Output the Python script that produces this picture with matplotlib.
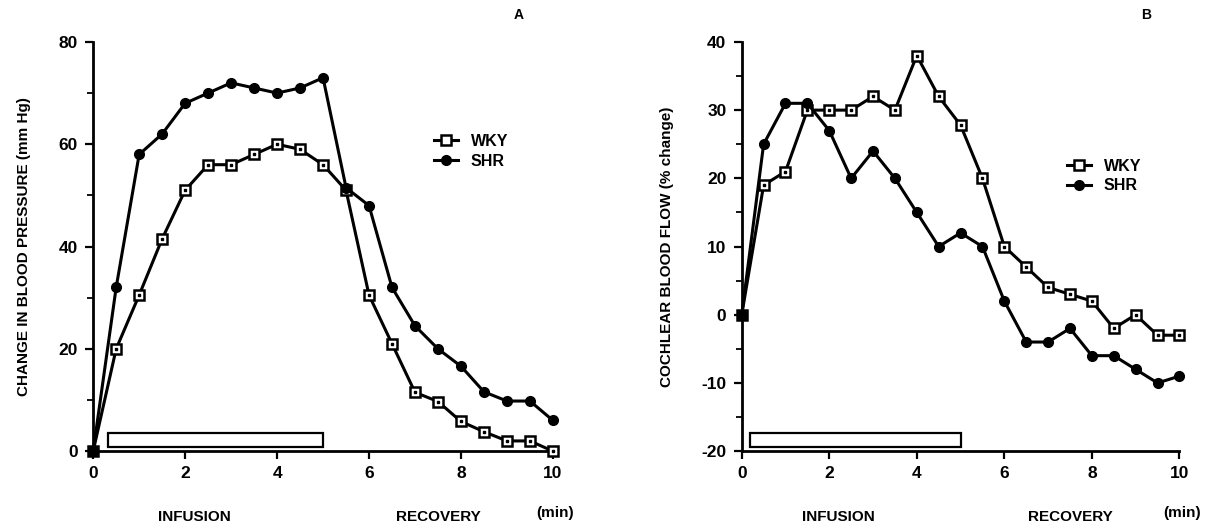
import matplotlib
matplotlib.use('Agg')
import matplotlib.pyplot as plt
from matplotlib.patches import Rectangle
from matplotlib.ticker import MultipleLocator

plt.rcParams['font.family'] = ['Liberation Sans', 'DejaVu Sans']
plt.rcParams['font.weight'] = 'bold'
plt.rcParams['axes.unicode_minus'] = False

# tempo (min)
tempo = [0, 0.5, 1, 1.5, 2, 2.5, 3, 3.5, 4, 4.5, 5,
         5.5, 6, 6.5, 7, 7.5, 8, 8.5, 9, 9.5, 10]

# A - pressao arterial (mm Hg)
pa_wky = [0, 20, 30.5, 41.5, 51, 56, 56, 58, 60, 59, 56,
          51, 30.5, 21, 11.5, 9.7, 5.8, 3.8, 2, 2, 0]
pa_shr = [0, 32, 58, 62, 68, 70, 72, 71, 70, 71, 73,
          51.5, 48, 32, 24.5, 20, 16.6, 11.6, 9.8, 9.8, 6]

# B - fluxo sanguineo coclear (% change)
fluxo_wky = [0, 19, 21, 30, 30, 30, 32, 30, 38, 32, 27.8,
             20, 10, 7, 4, 3, 2, -2, 0, -3, -3]
fluxo_shr = [0, 25, 31, 31, 27, 20, 24, 20, 15, 10, 12,
             10, 2, -4, -4, -2, -6, -6, -8, -10, -9]

infusao_a = (0.33, 5.0)
infusao_b = (0.2, 5.0)

fig = plt.figure(figsize=(12.26, 5.24), dpi=100)
ax_a = fig.add_axes([0.076, 0.139, 0.375, 0.781])
ax_b = fig.add_axes([0.605, 0.139, 0.357, 0.781])


def desenha(ax, wky, shr, ymin, ymax, maior, menor, barra, ylabel, letra):
    ax.plot(tempo, wky, color='black', lw=2.2, marker='s', ms=6.5,
            mfc='white', mec='black', mew=1.8, label='WKY', clip_on=False, zorder=3)
    ax.plot(tempo, wky, ls='none', marker='s', ms=1.5, color='black',
            clip_on=False, zorder=4)
    ax.plot(tempo, shr, color='black', lw=2.2, marker='o', ms=7,
            label='SHR', clip_on=False, zorder=3)

    # barra da infusao
    altura = (ymax - ymin) * 0.036
    base = ymin + (ymax - ymin) * 0.009
    ax.add_patch(Rectangle((barra[0], base), barra[1] - barra[0], altura,
                           fill=False, ec='black', lw=1.6))

    ax.set_xlim(0, 10)
    ax.set_ylim(ymin, ymax)
    ax.xaxis.set_major_locator(MultipleLocator(2))
    ax.yaxis.set_major_locator(MultipleLocator(maior))
    ax.yaxis.set_minor_locator(MultipleLocator(menor))
    ax.spines['top'].set_visible(False)
    ax.spines['right'].set_visible(False)
    ax.spines['left'].set_linewidth(2)
    ax.spines['bottom'].set_linewidth(2)
    ax.tick_params(axis='both', which='major', length=6, width=1.6,
                   labelsize=12.5, pad=5)
    ax.tick_params(axis='y', which='minor', length=4, width=1.3)
    for t in ax.get_xticklabels() + ax.get_yticklabels():
        t.set_fontweight('bold')

    ax.set_ylabel(ylabel, fontsize=11, fontweight='bold', labelpad=20)
    ax.text(2.2, -0.16, 'INFUSION', transform=ax.get_xaxis_transform(),
            ha='center', va='center', fontsize=11, fontweight='bold')
    ax.text(7.5, -0.16, 'RECOVERY', transform=ax.get_xaxis_transform(),
            ha='center', va='center', fontsize=11, fontweight='bold')
    ax.text(10.05, -0.15, '(min)', transform=ax.get_xaxis_transform(),
            ha='center', va='center', fontsize=11, fontweight='bold')
    ax.text(9.25, 1.065, letra, transform=ax.get_xaxis_transform(),
            ha='center', va='center', fontsize=10, fontweight='bold')


desenha(ax_a, pa_wky, pa_shr, 0, 80, 20, 10, infusao_a,
        'CHANGE IN BLOOD PRESSURE (mm Hg)', 'A')
desenha(ax_b, fluxo_wky, fluxo_shr, -20, 40, 10, 5, infusao_b,
        'COCHLEAR BLOOD FLOW (% change)', 'B')

ax_a.legend(loc='upper left', bbox_to_anchor=(0.71, 0.81), frameon=False,
            handlelength=1.5, handletextpad=0.8,
            labelspacing=0.3, prop={'weight': 'bold', 'size': 11.5})
ax_b.legend(loc='upper left', bbox_to_anchor=(0.71, 0.75), frameon=False,
            handlelength=1.5, handletextpad=0.8,
            labelspacing=0.3, prop={'weight': 'bold', 'size': 11.5})

fig.savefig('out.png', dpi=100)
